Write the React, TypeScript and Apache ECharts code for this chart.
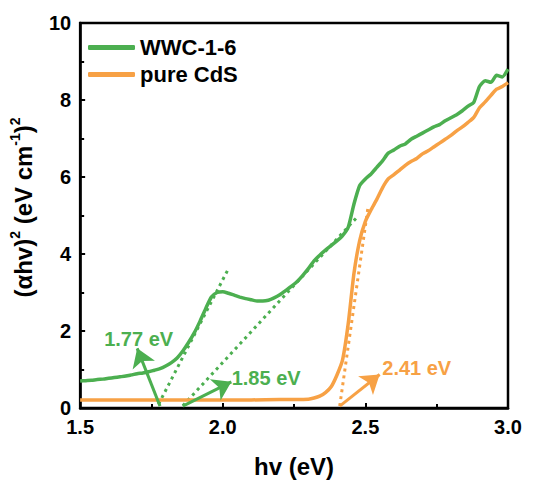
import React, { useEffect, useRef } from "react";
import * as echarts from "echarts";

const GREEN = "#4CAF50";
const ORANGE = "#F7A145";
const FONT = 'Arial, "Liberation Sans", Helvetica, sans-serif';

const xTicks = [1.5, 2.0, 2.5, 3.0];
const seriesNames = ["WWC-1-6", "pure CdS"];

const hvGreen = [1.50,1.52,1.54,1.56,1.58,1.60,1.62,1.64,1.66,1.68,1.70,1.72,1.74,1.76,1.78,1.80,1.82,1.84,1.86,1.88,1.90,1.92,1.94,1.96,1.98,2.00,2.02,2.04,2.06,2.08,2.10,2.12,2.14,2.16,2.18,2.20,2.22,2.24,2.26,2.28,2.30,2.32,2.34,2.36,2.38,2.40,2.42,2.44,2.46,2.48,2.50,2.52,2.54,2.56,2.58,2.60,2.62,2.64,2.66,2.68,2.70,2.72,2.74,2.76,2.78,2.80,2.82,2.84,2.86,2.88,2.90,2.92,2.94,2.96,2.98,3.00];
const wwcValues = [0.70,0.71,0.72,0.74,0.75,0.77,0.79,0.81,0.83,0.86,0.89,0.91,0.94,0.98,1.02,1.09,1.18,1.30,1.48,1.70,1.95,2.25,2.58,2.88,3.00,3.02,2.98,2.93,2.88,2.84,2.81,2.78,2.78,2.80,2.86,2.94,3.05,3.16,3.28,3.44,3.62,3.82,3.97,4.10,4.22,4.34,4.48,4.70,5.30,5.78,5.95,6.08,6.25,6.42,6.62,6.70,6.80,6.86,6.98,7.06,7.14,7.22,7.30,7.36,7.46,7.54,7.62,7.72,7.84,7.94,8.35,8.50,8.46,8.64,8.60,8.80];

const hvOrange = [1.50,1.60,1.70,1.80,1.90,2.00,2.10,2.20,2.26,2.30,2.32,2.34,2.36,2.38,2.40,2.42,2.44,2.46,2.48,2.50,2.52,2.54,2.56,2.58,2.60,2.62,2.64,2.66,2.68,2.70,2.72,2.74,2.76,2.78,2.80,2.82,2.84,2.86,2.88,2.90,2.92,2.94,2.96,2.98,3.00];
const cdsValues = [0.21,0.21,0.21,0.21,0.21,0.21,0.21,0.22,0.22,0.23,0.26,0.31,0.40,0.55,0.85,1.25,2.20,3.50,4.35,4.85,5.15,5.42,5.72,5.95,6.06,6.18,6.30,6.40,6.48,6.60,6.68,6.78,6.88,6.98,7.08,7.20,7.30,7.42,7.55,7.80,7.95,8.12,8.28,8.35,8.45];

// tangent (dotted) lines: [start, end]
const tangentA = [[1.775, 0.1], [2.02, 3.62]];
const tangentB = [[1.86, 0.06], [2.47, 4.95]];
const tangentC = [[2.41, 0.05], [2.51, 5.25]];

// arrows: [tail, head]
const arrowA = [[1.78, 0.05], [1.70, 1.55]];
const arrowB = [[1.86, 0.05], [2.03, 0.68]];
const arrowC = [[2.41, 0.05], [2.55, 0.87]];

// band gap labels: [x, y, text]
const labelA = [1.705, 1.78, "1.77 eV"];
const labelB = [2.152, 0.77, "1.85 eV"];
const labelC = [2.68, 1.03, "2.41 eV"];

const zip = (xs: number[], ys: number[]) => xs.map((x, i) => [x, ys[i]]);

function dotted(line: number[][], color: string) {
  return {
    type: "line",
    data: line,
    symbol: "none",
    silent: true,
    lineStyle: { color, width: 3, type: [3, 4] },
    z: 1,
  };
}

function arrow(a: number[][], lab: (number | string)[], color: string) {
  return {
    type: "line",
    data: [],
    silent: true,
    z: 5,
    markLine: {
      silent: true,
      animation: false,
      symbol: ["none", "arrow"],
      symbolSize: 18,
      itemStyle: { color },
      lineStyle: { color, width: 3, type: "solid" },
      label: { show: false },
      data: [[{ coord: a[0] }, { coord: a[1] }]],
    },
    markPoint: {
      silent: true,
      animation: false,
      symbol: "circle",
      symbolSize: 0,
      label: {
        show: true,
        position: "inside",
        color,
        fontSize: 20,
        fontWeight: "bold",
        fontFamily: FONT,
        formatter: String(lab[2]),
      },
      data: [{ coord: [lab[0], lab[1]] }],
    },
  };
}

export default function App() {
  const ref = useRef<HTMLDivElement>(null);
  useEffect(() => {
    if (!ref.current) return;
    const chart = echarts.init(ref.current, undefined, { renderer: "svg" });
    const axisCommon = {
      axisLine: { show: true, onZero: false, lineStyle: { color: "#000", width: 2.5 } },
      axisTick: { show: true, inside: true, length: 5, lineStyle: { color: "#000", width: 2 } },
      minorTick: { show: true, splitNumber: 2, length: 4, lineStyle: { color: "#000", width: 2 } },
      splitLine: { show: false },
      minorSplitLine: { show: false },
    };
    chart.setOption({
      animation: false,
      backgroundColor: "#fff",
      grid: {
        left: 77,
        right: 39,
        top: 23,
        bottom: 71,
        show: true,
        borderColor: "#000",
        borderWidth: 2.5,
        backgroundColor: "transparent",
      },
      legend: {
        orient: "vertical",
        left: 83,
        top: 31,
        itemWidth: 47,
        itemHeight: 5,
        itemGap: 4,
        icon: "roundRect",
        data: seriesNames,
        textStyle: { fontSize: 22, fontWeight: "bold", color: "#000", fontFamily: FONT, lineHeight: 23 },
      },
      xAxis: {
        type: "value",
        min: xTicks[0],
        max: xTicks[xTicks.length - 1],
        interval: 0.5,
        ...axisCommon,
        axisLabel: {
          fontSize: 20,
          fontWeight: "bold",
          color: "#000",
          fontFamily: FONT,
          margin: 9,
          formatter: (v: number) => v.toFixed(1),
        },
        name: "hv (eV)",
        nameLocation: "middle",
        nameGap: 46,
        nameTextStyle: { fontSize: 24, fontWeight: "bold", color: "#000", fontFamily: FONT },
      },
      yAxis: {
        type: "value",
        min: 0,
        max: 10,
        interval: 2,
        ...axisCommon,
        axisLabel: { fontSize: 20, fontWeight: "bold", color: "#000", fontFamily: FONT, margin: 9 },
        name: "(αhv){s|2} (eV cm{s|-1}){s|2}",
        nameLocation: "middle",
        nameRotate: 90,
        nameGap: 33,
        nameTextStyle: {
          fontSize: 24,
          fontWeight: "bold",
          color: "#000",
          fontFamily: FONT,
          lineHeight: 30,
          padding: [0, 0, 0, 16],
          rich: {
            s: { fontSize: 14, fontWeight: "bold", color: "#000", fontFamily: FONT, verticalAlign: "top", lineHeight: 30 },
          },
        },
      },
      series: [
        dotted(tangentA, GREEN),
        dotted(tangentB, GREEN),
        dotted(tangentC, ORANGE),
        {
          name: seriesNames[0],
          type: "line",
          data: zip(hvGreen, wwcValues),
          symbol: "none",
          smooth: 0.2,
          lineStyle: { color: GREEN, width: 3.5 },
          itemStyle: { color: GREEN },
          z: 3,
        },
        {
          name: seriesNames[1],
          type: "line",
          data: zip(hvOrange, cdsValues),
          symbol: "none",
          smooth: 0.2,
          lineStyle: { color: ORANGE, width: 3.5 },
          itemStyle: { color: ORANGE },
          z: 2,
        },
        arrow(arrowA, labelA, GREEN),
        arrow(arrowB, labelB, GREEN),
        arrow(arrowC, labelC, ORANGE),
      ],
    });
    return () => chart.dispose();
  }, []);
  return <div ref={ref} style={{ position: "fixed", left: 0, top: 0, width: 547, height: 483 }} />;
}
